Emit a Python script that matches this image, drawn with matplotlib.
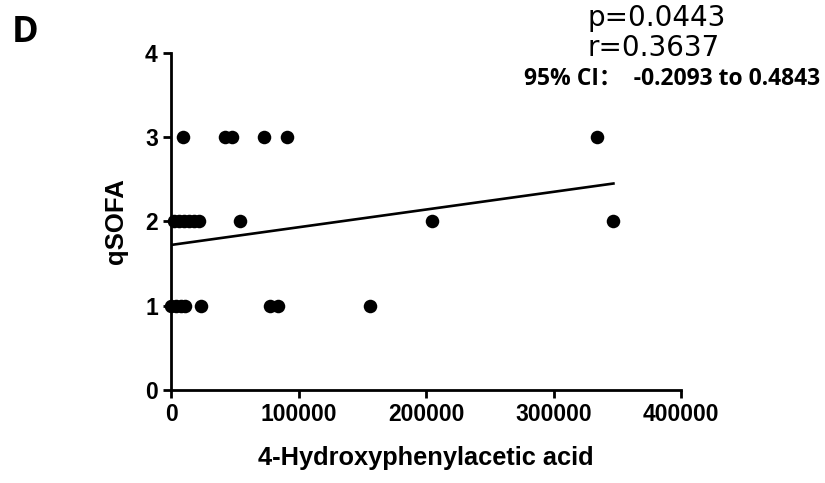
import matplotlib
matplotlib.use('Agg')
import matplotlib.pyplot as plt
import numpy as np

# qSOFA vs 4-Hydroxyphenylacetic acid
hpa_q1 = [0, 4000, 8000, 11000, 23300, 77800, 84300, 155800]
hpa_q2 = [2000, 6000, 10000, 14000, 18000, 22000, 53800, 204800, 347000]
hpa_q3 = [9200, 42400, 47700, 73000, 90900, 334400]

x_vals = np.array(hpa_q1 + hpa_q2 + hpa_q3, dtype=float)
y_vals = np.array([1] * len(hpa_q1) + [2] * len(hpa_q2) + [3] * len(hpa_q3), dtype=float)

# regression line as shown in the figure
fit_intercept = 1.72
fit_slope = 2.1e-6

stats_p = 'p=0.0443'
stats_r = 'r=0.3637'
stats_ci = '95% CI：  -0.2093 to 0.4843'

W, H = 825, 483
fig = plt.figure(figsize=(W / 100, H / 100), dpi=100)
ax = fig.add_axes([171 / W, 1 - 390 / H, 510 / W, (390 - 52.7) / H])

ax.scatter(x_vals, y_vals, s=95, color='black', zorder=3, clip_on=False, linewidths=0)
xx = np.array([x_vals.min(), x_vals.max()])
ax.plot(xx, fit_intercept + fit_slope * xx, color='black', lw=1.9, zorder=2)

ax.set_xlim(0, 400000)
ax.set_ylim(0, 4)
ax.set_xticks([0, 100000, 200000, 300000, 400000])
ax.set_xticklabels(['0', '100000', '200000', '300000', '400000'])
ax.set_yticks([0, 1, 2, 3, 4])
for s in ['top', 'right']:
    ax.spines[s].set_visible(False)
for s in ['left', 'bottom']:
    ax.spines[s].set_linewidth(2.0)
ax.tick_params(direction='out', length=5.5, width=2.0, pad=4)
for lab in ax.get_xticklabels() + ax.get_yticklabels():
    lab.set_fontfamily('Liberation Sans')
    lab.set_fontweight('bold')
    lab.set_fontsize(16.5)

ax.set_xlabel('4-Hydroxyphenylacetic acid', fontsize=18.3, fontweight='bold',
              family='Liberation Sans', labelpad=14)
ax.set_ylabel('qSOFA', fontsize=18.5, fontweight='bold', family='Liberation Sans', labelpad=12)

fig.text(12 / W, 1 - 33 / H, 'D', fontsize=26, fontweight='bold', family='Open Sans',
         va='center', ha='left')
fig.text(588 / W, 1 - 18 / H, stats_p, fontsize=20, family='DejaVu Sans', va='center', ha='left')
fig.text(588 / W, 1 - 48 / H, stats_r, fontsize=20, family='DejaVu Sans', va='center', ha='left')
fig.text(820 / W, 1 - 79 / H, stats_ci, fontsize=16.5, fontweight='bold',
         family=['Open Sans', 'Noto Sans CJK SC'], va='center', ha='right')

fig.savefig('out.png', dpi=100)
